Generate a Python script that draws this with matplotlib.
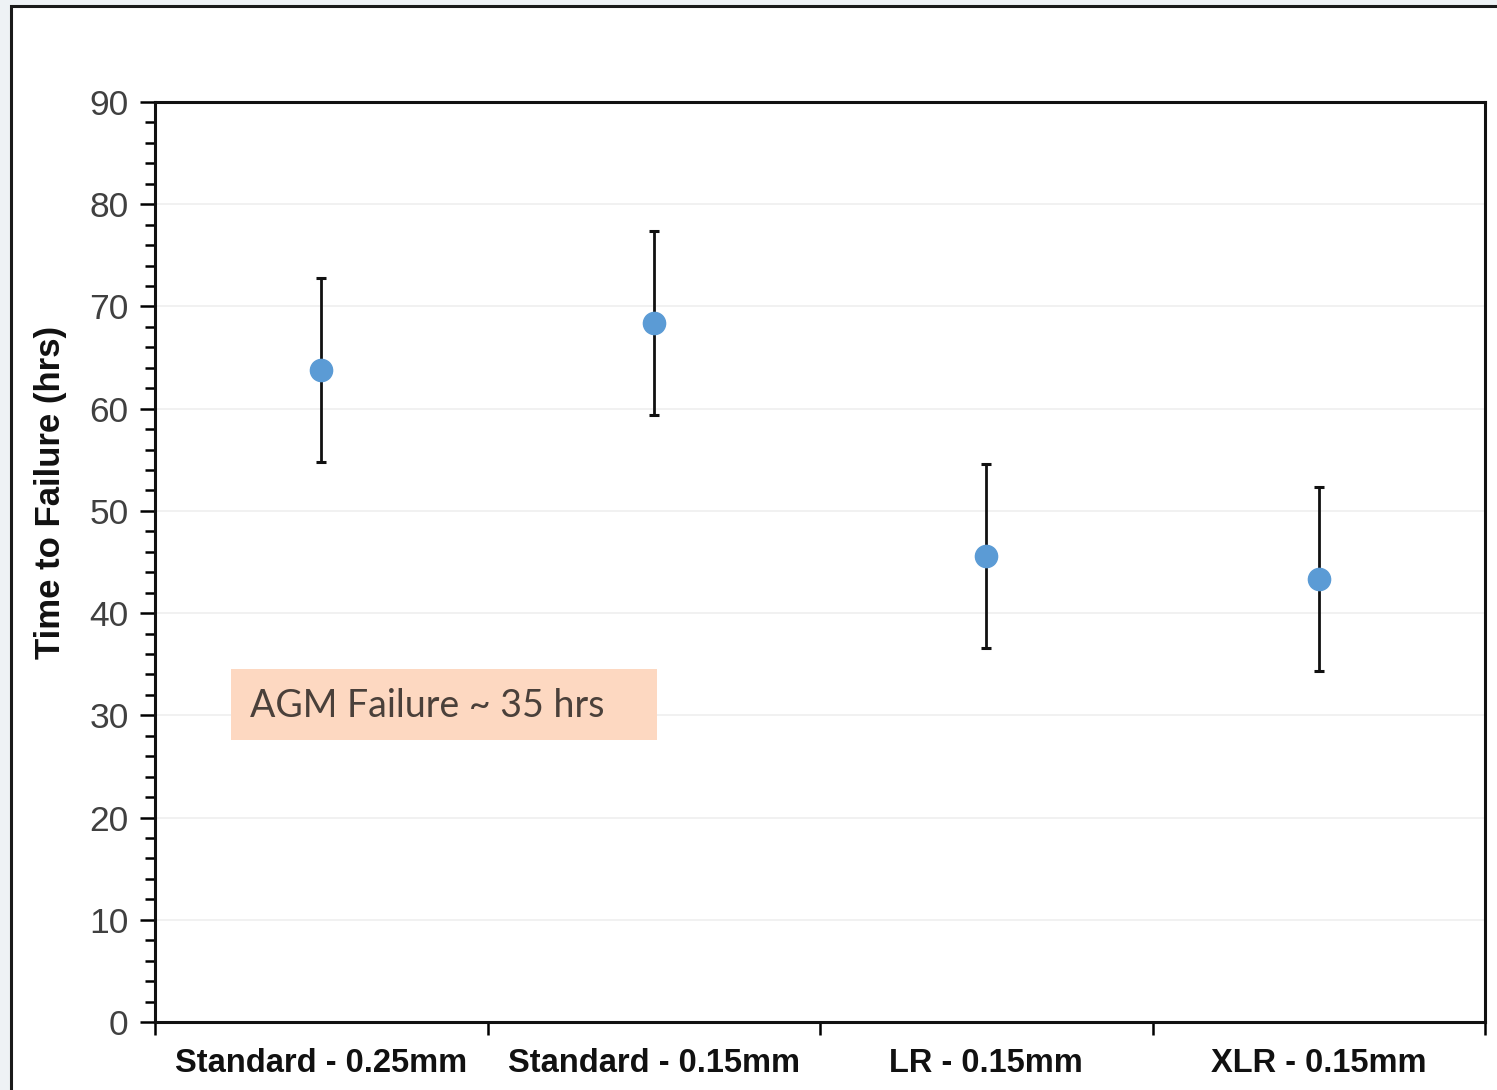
import matplotlib
matplotlib.use("Agg")
import matplotlib.pyplot as plt
from matplotlib.patches import Rectangle
from matplotlib.ticker import MultipleLocator, FixedLocator
import numpy as np

CATEGORIES = ["Standard - 0.25mm", "Standard - 0.15mm", "LR - 0.15mm", "XLR - 0.15mm"]
MEAN_HRS = [63.8, 68.4, 45.6, 43.3]
LOWER_HRS = [54.8, 59.4, 36.6, 34.3]
UPPER_HRS = [72.8, 77.4, 54.6, 52.3]
Y_TICKS = [0, 10, 20, 30, 40, 50, 60, 70, 80, 90]
NOTE_TEXT = "AGM Failure ~ 35 hrs"

W, H = 1497, 1090


def main():
    fig = plt.figure(figsize=(W / 100, H / 100), dpi=100, facecolor="#eef2f5")

    # white panel with a dark frame, running off the right and bottom edges
    frame = Rectangle((11 / W, -0.05), 1.1, 1.05 - 6 / H, transform=fig.transFigure,
                      facecolor="white", edgecolor="#1a1a1a", linewidth=2.2, zorder=-5)
    fig.patches.append(frame)

    ax = fig.add_axes([155 / W, 1 - 1022 / H, (1485 - 155) / W, (1022 - 102) / H])
    ax.set_zorder(1)
    ax.set_facecolor("white")

    x = np.arange(len(CATEGORIES))
    mean = np.array(MEAN_HRS)
    yerr = [mean - np.array(LOWER_HRS), np.array(UPPER_HRS) - mean]

    ax.errorbar(x, mean, yerr=yerr, fmt="o", color="#5b9bd5", markersize=16,
                ecolor="#111111", elinewidth=2.0, capsize=3.5, capthick=2.2, zorder=3)

    ax.set_xlim(-0.5, len(CATEGORIES) - 0.5)
    ax.set_ylim(0, 90)

    ax.yaxis.set_major_locator(FixedLocator(Y_TICKS))
    ax.yaxis.set_minor_locator(MultipleLocator(2))
    ax.tick_params(axis="y", which="major", direction="out", length=11, width=1.8,
                   labelsize=25.5, labelcolor="#404040", pad=8)
    ax.tick_params(axis="y", which="minor", direction="out", length=7, width=1.8)

    ax.set_xticks(x)
    ax.set_xticklabels(CATEGORIES, fontsize=23.5, fontweight="bold",
                       family="Liberation Sans", color="#111111")
    ax.xaxis.set_minor_locator(FixedLocator(np.arange(-0.5, len(CATEGORIES), 1.0)))
    ax.tick_params(axis="x", which="major", length=0, pad=19)
    ax.tick_params(axis="x", which="minor", direction="out", length=9, width=1.8)

    for lab in ax.get_yticklabels():
        lab.set_family("Liberation Sans")

    for y in Y_TICKS[1:-1]:
        ax.axhline(y, color="#efefef", linewidth=1.2, zorder=1)

    for side in ["left", "right", "top", "bottom"]:
        ax.spines[side].set_linewidth(2.2)
        ax.spines[side].set_color("#111111")

    ax.set_ylabel("Time to Failure (hrs)", fontsize=25, fontweight="bold",
                  family="Liberation Sans", color="#111111")
    ax.yaxis.set_label_coords(-0.066, 0.5755)

    # note box
    ax.add_patch(Rectangle((-0.27, 27.6), 1.28, 6.9, facecolor="#fdd8c1",
                           edgecolor="none", zorder=2))
    ax.text(-0.213, 30.9, NOTE_TEXT, fontsize=27, family="Lato", color="#4a403a",
            va="center", ha="left", zorder=4)

    fig.savefig("out.png", dpi=100, facecolor=fig.get_facecolor())
    plt.close(fig)


if __name__ == "__main__":
    main()
